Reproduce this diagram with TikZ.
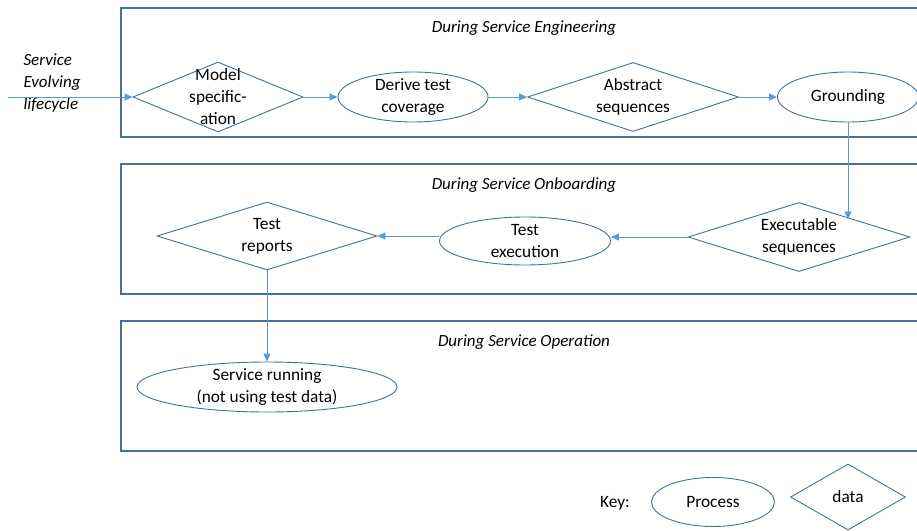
\documentclass[tikz,border=0pt]{standalone}
\usepackage{fontspec}
\setmainfont{Carlito}
\usetikzlibrary{shapes.geometric, arrows.meta, positioning, calc}
\definecolor{cFrame}{RGB}{70,110,160}
\definecolor{cShape}{RGB}{65,113,156}
\definecolor{cFlow}{RGB}{91,155,213}
\tikzset{
	stage/.style   ={draw=cFrame, line width=1.3pt},
	stagetitle/.style={font=\fontsize{17}{22}\selectfont\itshape},
	proc/.style    ={ellipse, draw=cShape, line width=0.9pt, inner sep=0pt,
		label={[align=center]center:#1}},
	datum/.style   ={diamond, draw=cShape, line width=0.9pt, inner sep=0pt,
		label={[align=center]center:#1}},
	flow/.style    ={-{Triangle[length=8pt, width=7pt]}, draw=cFlow, line width=0.9pt},
}
\begin{document}
\begin{tikzpicture}[x=1pt, y=-1pt, font=\fontsize{17.3}{22}\selectfont]
	\useasboundingbox (0,0) rectangle (917,530);
	% stages
	\draw[stage] (930,8) -- (121,8) -- (121,137) -- (930,137);
	\draw[stage] (930,164) -- (121,164) -- (121,294) -- (930,294);
	\draw[stage] (930,321) -- (121,321) -- (121,451) -- (930,451);
	\node[stagetitle] (tEng) at (524,28) {During Service Engineering};
	\node[stagetitle] (tOnb) at (524,185) {During Service Onboarding};
	\node[stagetitle] (tOps) at (524,342) {During Service Operation};

	% engineering
	\node[stagetitle, align=left, anchor=west] (life) at (20,83) {Service\\Evolving\\lifecycle};
	\coordinate (lcin) at (8,97);
	\node[datum={Model\\specific-\\ation}, minimum width=170pt, minimum height=70pt] (model) at (218,97) {};
	\node[proc={Derive test\\coverage}, minimum width=150pt, minimum height=50pt] (cover) at (413,97) {};
	\node[datum={Abstract\\sequences}, minimum width=211pt, minimum height=69pt] (abstr) at (633,97) {};
	\node[proc=Grounding, minimum width=141pt, minimum height=50pt] (ground) at (848,97) {};

	% onboarding
	\node[datum={Executable\\sequences}, minimum width=222pt, minimum height=69pt] (exec) at (799,237) {};
	\node[proc={Test\\execution}, minimum width=171pt, minimum height=48pt] (run) at (525,241) {};
	\node[datum={Test\\reports}, minimum width=220pt, minimum height=68pt] (report) at (267,236) {};

	% operation
	\node[proc={Service running\\(not using test data)}, minimum width=260pt, minimum height=50pt] (live) at (267,387) {};

	% key
	\node (key) at (615,503) {Key:};
	\node[proc=Process, minimum width=123pt, minimum height=49pt] (kproc) at (713,502) {};
	\node[datum=data, minimum width=115pt, minimum height=66pt] (kdata) at (848,497) {};

	% connectors
	\draw[flow] (lcin) -- (model.west);
	\draw[flow] (model.east) -- (cover.west);
	\draw[flow] (cover.east) -- (abstr.west);
	\draw[flow] (abstr.east) -- (ground.west);
	\draw[flow] (ground.south) -- (ground.south |- exec.north east);
	\draw[flow] (exec.west) -- (run.east |- exec.west);
	\draw[flow] (run.west |- report.east) -- (report.east);
	\draw[flow] (report.south) -- (live.north);
\end{tikzpicture}
\end{document}
